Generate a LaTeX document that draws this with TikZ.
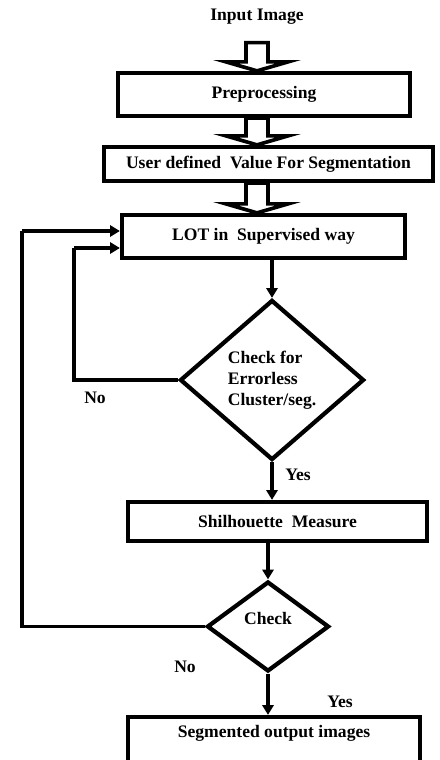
\documentclass[tikz,border=0pt]{standalone}
\usepackage{fontspec}
\setmainfont{Liberation Serif}
\usetikzlibrary{arrows.meta,positioning,calc,shapes.geometric}

\begin{document}
\begin{tikzpicture}[x=0.025cm,y=-0.025cm,
      font=\fontsize{12.5pt}{15pt}\selectfont\bfseries,
      box/.style={draw,line width=3pt,inner sep=0pt,minimum height=1.075cm},
      dec/.style={draw,diamond,line width=3pt,inner sep=0pt},
      arr/.style={-{Triangle[length=7pt,width=8pt]},line width=2.6pt},
      link/.style={line width=2.6pt},
      hollow/.style={draw,line width=2.6pt,fill=white,line join=miter}
    ]
    \useasboundingbox (0,0) rectangle (439,760);
    \node (in) at (257,17) {Input Image};
    \node[box,minimum width=7.3cm] (pre) at (264,94.5) {Preprocessing};
    \node[box,minimum width=8.225cm,minimum height=0.85cm] (usr) at (268.5,164) {User defined\ \ Value For Segmentation};
    \node[box,minimum width=7.075cm] (lot) at (263.5,236.5) {LOT in\ \ Supervised way};
    \node[dec,minimum width=4.6cm,minimum height=4.0cm,aspect=1.15] (d1) at (272,380)
      {\begin{tabular}{@{}l@{}}Check for\\Errorless\\Cluster/seg.\end{tabular}};
    \node[box,minimum width=7.475cm,minimum height=0.975cm] (shil) at (277.5,521.5) {Shilhouette\ \ Measure};
    \node[dec,minimum width=3.05cm,minimum height=2.25cm,text depth=12pt] (d2) at (268,626.5) {Check};
    \node[box,minimum width=7.3cm,minimum height=1.125cm,text depth=12pt] (seg) at (274,739.5) {Segmented output images};

    % hollow block arrows along the top
    \coordinate (ax) at (257,0);
    \foreach \a/\b/\g in {in/pre/13,pre/usr/0,usr/lot/0}
      \draw[hollow] ($(ax |- \a.south)+(-11,\g)$) -- ($(ax |- \b.north)+(-11,-9)$)
        -- ($(ax |- \b.north)+(-31,-9)$) -- (ax |- \b.north) -- ($(ax |- \b.north)+(31,-9)$)
        -- ($(ax |- \b.north)+(11,-9)$) -- ($(ax |- \a.south)+(11,\g)$) -- cycle;

    \draw[arr] (lot.south -| d1.north) -- (d1.north);
    \draw[arr] (d1.south) -- (d1.south |- shil.north);
    \draw[arr] (shil.south -| d2.north) -- (d2.north);
    \draw[arr] (d2.south) -- (d2.south |- seg.north);

    \coordinate (back1) at (74,248);
    \coordinate (back2) at (22,231);
    \draw[link] (d1.west) -| (back1);
    \draw[arr] (back1) -- (back1 -| lot.west);
    \draw[link] (d2.west) -| (back2);
    \draw[arr] (back2) -- (back2 -| lot.west);

    \node (no1) at (95,398) {No};
    \node (yes1) at (298,475) {Yes};
    \node (no2) at (185,667) {No};
    \node (yes2) at (340,702) {Yes};
  \end{tikzpicture}
\end{document}
